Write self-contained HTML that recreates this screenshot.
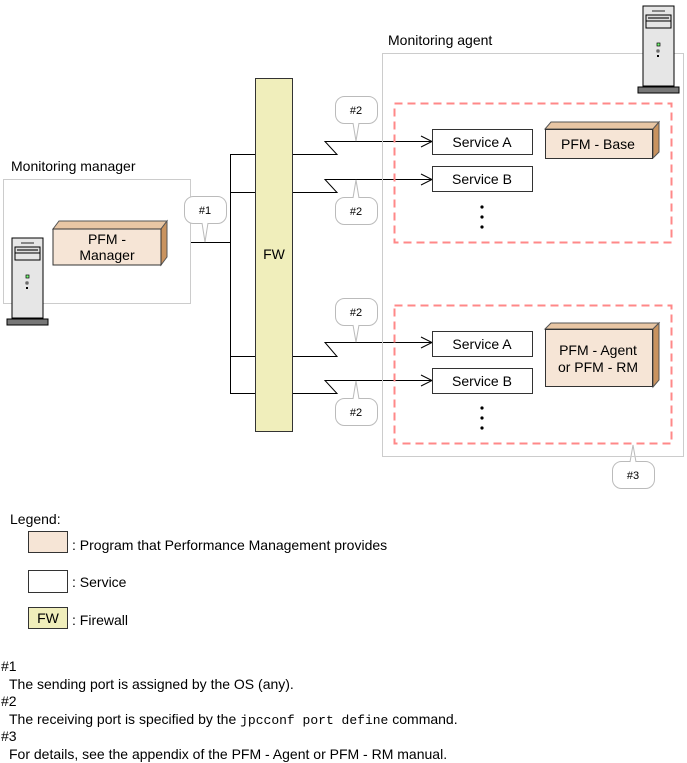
<!DOCTYPE html>
<html><head><style>
html,body{margin:0;padding:0;background:#fff;}
svg{display:block;font-family:"Liberation Sans",Arial,sans-serif;}
</style></head><body>
<svg width="687" height="763" viewBox="0 0 687 763" xmlns="http://www.w3.org/2000/svg">
<defs>
<g id="srv">
  <rect x="0" y="0" width="31" height="80" fill="#e6e6e6" stroke="#000" stroke-width="1"/>
  <line x1="9" y1="5" x2="22" y2="5" stroke="#666" stroke-width="1.5"/>
  <rect x="3" y="9" width="25" height="6" fill="#ddd" stroke="#000"/>
  <rect x="5" y="11" width="21" height="2" fill="#666"/>
  <rect x="3" y="15" width="25" height="7" fill="none" stroke="#000"/>
  <rect x="14" y="37" width="3" height="3" fill="#7f7" stroke="#000" stroke-width="0.7"/>
  <rect x="14" y="44" width="2" height="2" fill="#fff" stroke="#000" stroke-width="0.7"/>
  <rect x="14" y="49" width="2" height="2" fill="#000"/>
  <rect x="-5" y="81" width="41" height="6" fill="#777" stroke="#000"/>
</g>
</defs>
<!-- manager -->
<text x="11" y="171" font-size="14">Monitoring manager</text>
<rect x="3.5" y="179.5" width="187" height="124" fill="none" stroke="#ccc"/>
<use href="#srv" x="12" y="238"/>
<polygon points="53,229 59,221 167,221 161,229" fill="#e8c6a4" stroke="#555"/>
<polygon points="161,229 167,221 167,257 161,265" fill="#c9935f" stroke="#555"/>
<rect x="53" y="229" width="108" height="36" fill="#f6e5d6" stroke="#333"/>
<text x="107" y="244" font-size="14" text-anchor="middle">PFM -</text>
<text x="107" y="260" font-size="14" text-anchor="middle">Manager</text>
<!-- lines -->
<g stroke="#000" stroke-width="1" fill="none">
<line x1="191" y1="242.5" x2="230" y2="242.5"/>
<line x1="230.5" y1="154" x2="230.5" y2="393"/>
<line x1="230" y1="154.5" x2="255" y2="154.5"/>
<line x1="230" y1="192.5" x2="255" y2="192.5"/>
<line x1="230" y1="356.5" x2="255" y2="356.5"/>
<line x1="230" y1="393.5" x2="255" y2="393.5"/>
<polyline points="293,154.5 337,154.5 325,141.5 432,141.5"/>
<polyline points="293,192.5 337,192.5 325,179.5 432,179.5"/>
<polyline points="293,356.5 337,356.5 325,342.5 432,342.5"/>
<polyline points="293,393.5 337,393.5 325,380.5 432,380.5"/>
<polyline points="421,136 432,141.5 421,147"/>
<polyline points="421,174 432,179.5 421,185"/>
<polyline points="421,337 432,342.5 421,348"/>
<polyline points="421,375 432,380.5 421,386"/>
</g>
<rect x="255.5" y="78.5" width="37" height="353" fill="#f0eebb" stroke="#333"/>
<text x="274" y="259" font-size="14" text-anchor="middle">FW</text>
<!-- callouts -->
<g stroke="#bbb" fill="#fff">
<rect x="184.5" y="196.5" width="42" height="27" rx="9"/>
<polyline points="202,223 205,242 208,223"/>
<rect x="335.5" y="96.5" width="42" height="27" rx="9"/>
<polyline points="353,123 356,141 359,123"/>
<rect x="335.5" y="197.5" width="42" height="27" rx="9"/>
<polyline points="353,198 356,180 359,198"/>
<rect x="335.5" y="298.5" width="42" height="27" rx="9"/>
<polyline points="353,325 356,342 359,325"/>
<rect x="335.5" y="398.5" width="42" height="27" rx="9"/>
<polyline points="353,399 356,381 359,399"/>
<rect x="612.5" y="461.5" width="42" height="27" rx="9"/>
<polyline points="630,462 633,445 636,462"/>
</g>
<g font-size="11" text-anchor="middle">
<text x="205" y="214">#1</text>
<text x="356" y="114">#2</text>
<text x="356" y="215">#2</text>
<text x="356" y="316">#2</text>
<text x="356" y="416">#2</text>
<text x="633" y="479">#3</text>
</g>
<!-- agent -->
<text x="388" y="45" font-size="14">Monitoring agent</text>
<rect x="382.5" y="53.5" width="301" height="403" fill="none" stroke="#ccc"/>
<use href="#srv" x="643" y="6"/>
<rect x="394.5" y="103.5" width="277" height="139" fill="none" stroke="#f88" stroke-width="2" stroke-dasharray="8,5"/>
<rect x="394.5" y="305.5" width="277" height="138" fill="none" stroke="#f88" stroke-width="2" stroke-dasharray="8,5"/>
<g fill="#fff" stroke="#333">
<rect x="432.5" y="129.5" width="100" height="25"/>
<rect x="432.5" y="166.5" width="100" height="25"/>
<rect x="432.5" y="331.5" width="100" height="25"/>
<rect x="432.5" y="368.5" width="100" height="25"/>
</g>
<g font-size="14" text-anchor="middle">
<text x="482" y="147">Service A</text>
<text x="482" y="184">Service B</text>
<text x="482" y="349">Service A</text>
<text x="482" y="386">Service B</text>
</g>
<g fill="#000">
<circle cx="482" cy="207" r="1.6"/><circle cx="482" cy="217" r="1.6"/><circle cx="482" cy="227" r="1.6"/>
<circle cx="482" cy="408" r="1.6"/><circle cx="482" cy="418" r="1.6"/><circle cx="482" cy="428" r="1.6"/>
</g>
<polygon points="545,129 551,122 659,122 653,129" fill="#e8c6a4" stroke="#555"/>
<polygon points="653,129 659,122 659,152 653,158" fill="#c9935f" stroke="#555"/>
<rect x="545.5" y="129.5" width="107" height="29" fill="#f6e5d6" stroke="#333"/>
<text x="598" y="149" font-size="14" text-anchor="middle">PFM - Base</text>
<polygon points="545,329 551,323 659,323 653,329" fill="#e8c6a4" stroke="#555"/>
<polygon points="653,329 659,323 659,380 653,387" fill="#c9935f" stroke="#555"/>
<rect x="545.5" y="329.5" width="107" height="57" fill="#f6e5d6" stroke="#333"/>
<text x="598" y="355" font-size="14" text-anchor="middle">PFM - Agent</text>
<text x="598" y="372" font-size="14" text-anchor="middle">or PFM - RM</text>
<!-- legend -->
<g font-size="14">
<text x="10" y="524">Legend:</text>
<rect x="28.5" y="531.5" width="39" height="21" fill="#f6e5d6" stroke="#333"/>
<text x="72" y="550">: Program that Performance Management provides</text>
<rect x="28.5" y="570.5" width="39" height="22" fill="#fff" stroke="#333"/>
<text x="72" y="587">: Service</text>
<rect x="28.5" y="607.5" width="39" height="21" fill="#f0eebb" stroke="#333"/>
<text x="48" y="623" text-anchor="middle">FW</text>
<text x="72" y="625">: Firewall</text>
<text x="1" y="671">#1</text>
<text x="9" y="689">The sending port is assigned by the OS (any).</text>
<text x="1" y="706">#2</text>
<text x="9" y="724">The receiving port is specified by the <tspan font-family="Liberation Mono,monospace" font-size="13">jpcconf port define</tspan> command.</text>
<text x="1" y="741">#3</text>
<text x="9" y="759">For details, see the appendix of the PFM - Agent or PFM - RM manual.</text>
</g>
</svg>
</body></html>
